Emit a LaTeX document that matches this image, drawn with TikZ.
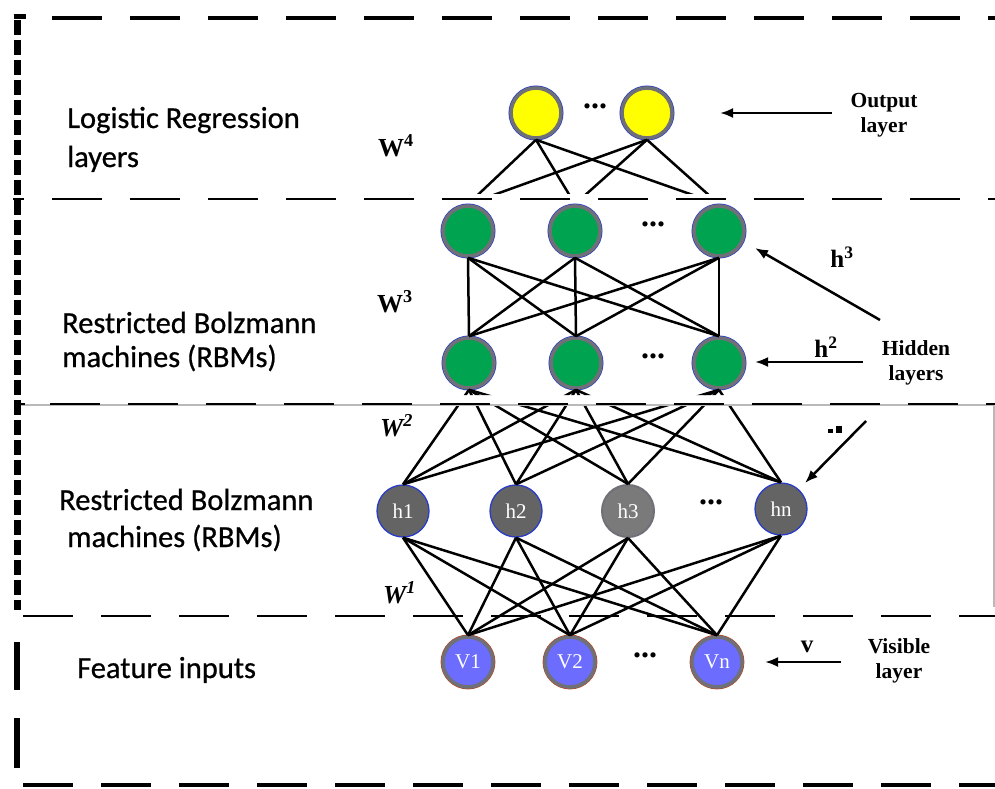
\documentclass[tikz,border=0pt]{standalone}
\usepackage{fontspec}
\setmainfont{Liberation Serif}
\newfontfamily\calfont{Carlito}[FakeBold=0.7]
\usetikzlibrary{arrows.meta}

\definecolor{ringgray}{RGB}{112,112,120}
\definecolor{ringblue}{RGB}{40,60,200}
\definecolor{ringred}{RGB}{190,70,30}
\definecolor{yellowfill}{RGB}{255,255,0}
\definecolor{greenfill}{RGB}{0,163,80}
\definecolor{grayfill}{RGB}{100,100,100}
\definecolor{grayfilllight}{RGB}{122,122,122}
\definecolor{bluefill}{RGB}{108,108,255}
\definecolor{faintline}{RGB}{185,185,185}

\begin{document}
\begin{tikzpicture}[x=1pt,y=-1pt,
  neuron/.style={circle, minimum size=50pt, inner sep=0pt, line width=3.6pt, draw=ringgray},
  yelnode/.style={neuron, fill=yellowfill, preaction={draw=ringblue, line width=5pt}},
  greennode/.style={neuron, fill=greenfill, preaction={draw=ringblue, line width=5pt}},
  hidnode/.style={circle, minimum size=52pt, inner sep=0pt, line width=1.3pt, draw=ringblue, fill=grayfill,
     text=white, font=\fontsize{21}{24}\selectfont},
  visnode/.style={neuron, fill=bluefill, text=white, font=\fontsize{21}{24}\selectfont,
     preaction={draw=ringred, line width=4.8pt}},
  edge/.style={line width=2.5pt, black},
  arr/.style={line width=2.5pt, -{Latex[length=13pt,width=10pt]}},
  dotsnode/.style={font=\bfseries\fontsize{32}{34}\selectfont, inner sep=0pt},
  sidelabel/.style={font=\calfont\fontsize{30.5}{34}\selectfont, anchor=base west, inner sep=0pt},
  wlabel/.style={font=\bfseries\fontsize{26}{28}\selectfont, anchor=base west, inner sep=0pt},
  rightlabel/.style={font=\bfseries\fontsize{21.5}{25.5}\selectfont, align=center, inner sep=0pt},
  hlabel/.style={font=\bfseries\fontsize{25}{28}\selectfont, inner sep=0pt},
  septhick/.style={line width=4.8pt, dash pattern=on 50pt off 28pt},
  septhin/.style={line width=2.4pt, dash pattern=on 50pt off 28pt}
]
\useasboundingbox[fill=white] (0,0) rectangle (995,789);

% ---------- neurons ----------
\node[yelnode] (y1) at (536,113) {};
\node[yelnode] (y2) at (647,113) {};
\node[dotsnode] (ydots) at (595,106) {...};

\node[greennode] (g1) at (468,231) {};
\node[greennode] (g2) at (575,231) {};
\node[greennode] (g3) at (719,231) {};
\node[dotsnode] (gdots) at (653,224) {...};

\node[greennode] (b1) at (469,363) {};
\node[greennode] (b2) at (576,363) {};
\node[greennode] (b3) at (719,363) {};
\node[dotsnode] (bdots) at (653,356) {...};

\node[hidnode] (h1) at (403,511) {h1};
\node[hidnode] (h2) at (516,511) {h2};
\node[hidnode, fill=grayfilllight, draw=ringgray, line width=2pt] (h3) at (628,511) {h3};
\node[hidnode] (hn) at (781,509) {hn};
\node[dotsnode] (hdots) at (711,502) {...};

\node[visnode] (v1) at (468,662) {V1};
\node[visnode] (v2) at (570,662) {V2};
\node[visnode] (vn) at (717,662) {Vn};
\node[dotsnode] (vdots) at (645,655) {...};

% ---------- weights W4: output layer to top hidden layer ----------
\begin{scope}
  \clip (0,0) rectangle (995,193);
  \foreach \a in {y1,y2}
    \foreach \b in {g1,g2,g3}
      \draw[edge] (\a.south) -- (\b.north);
\end{scope}

% ---------- weights W3 ----------
\foreach \a in {g1,g2,g3}
  \foreach \b in {b1,b2,b3}
    \draw[edge] (\a.south) -- (\b.north);

% ---------- weights W2 ----------
\begin{scope}
  \clip (0,0) rectangle (995,395) (0,406) rectangle (995,789);
  \foreach \a in {h1,h2,h3,hn}
    \foreach \b in {b1,b2,b3}
      \draw[edge] (\a.north) -- (\b.south);
\end{scope}

% ---------- weights W1 ----------
\foreach \a in {h1,h2,h3,hn}
  \foreach \b in {v1,v2,vn}
    \draw[edge] (\a.south) -- (\b.north);

% ---------- section separators ----------
\draw[faintline, line width=1.2pt] (17,405) -- (994,405) -- (994,607);
\draw[septhick] (52,18) -- (995,18);
\draw[line width=4.8pt] (13.5,16.5) -- (26,16.5);
\draw[line width=7pt, dash pattern=on 15pt off 5pt, dash phase=14pt] (17,14) -- (17,610);
\draw[septhin, dash phase=39pt] (13,199) -- (995,199);
\draw[septhin] (50,404) -- (995,404);
\draw[line width=2.4pt] (14,404) -- (25,404);
\draw[septhin, line width=2.6pt] (23,616) -- (995,616);
\draw[septhick] (23,785) -- (995,785);
\draw[line width=6.5pt] (17,642) -- (17,690);
\draw[line width=6.5pt] (17,718) -- (17,768);

% ---------- section names ----------
\node[sidelabel] (t1a) at (67,128) {Logistic Regression};
\node[sidelabel] (t1b) at (67,167) {layers};
\node[sidelabel] (t2a) at (62,333) {Restricted Bolzmann};
\node[sidelabel] (t2b) at (62,367) {machines (RBMs)};
\node[sidelabel] (t3a) at (59,510) {Restricted Bolzmann};
\node[sidelabel] (t3b) at (67,547) {machines (RBMs)};
\node[sidelabel] (t4) at (77,678) {Feature inputs};

% ---------- weight labels ----------
\node[wlabel] (w4) at (378,156) {W\textsuperscript{4}};
\node[wlabel] (w3) at (377,312) {W\textsuperscript{3}};
\node[wlabel, font=\bfseries\itshape\fontsize{26}{28}\selectfont] (w2) at (380,436) {W\textsuperscript{2}};
\node[wlabel, font=\bfseries\itshape\fontsize{26}{28}\selectfont] (w1) at (383,603) {W\textsuperscript{1}};

% ---------- layer annotations ----------
\coordinate (oa) at (832,113);  \coordinate (ob) at (720,113);
\draw[arr] (oa) -- (ob);
\node[rightlabel] (outlbl) at (884,115) {Output\\layer};

\coordinate (h3a) at (880,320); \coordinate (h3b) at (755,248);
\draw[arr] (h3a) -- (h3b);
\node[hlabel] (h3lbl) at (842,257) {h\textsuperscript{3}};

\coordinate (h2a) at (863,362); \coordinate (h2b) at (755,362);
\draw[arr] (h2a) -- (h2b);
\node[hlabel] (h2lbl) at (826,347) {h\textsuperscript{2}};

\node[rightlabel] (hidlbl) at (916,363) {Hidden\\layers};

\coordinate (h1a) at (866,421); \coordinate (h1b) at (805,483);
\draw[arr] (h1a) -- (h1b);
\fill (828,429) rectangle (833,433);
\fill (836,426) rectangle (842,433);

\coordinate (va) at (841,662); \coordinate (vb) at (765,662);
\draw[arr] (va) -- (vb);
\node[hlabel] (vlbl) at (807,647) {v};
\node[rightlabel] (vislbl) at (899,661) {Visible\\layer};
\end{tikzpicture}
\end{document}
